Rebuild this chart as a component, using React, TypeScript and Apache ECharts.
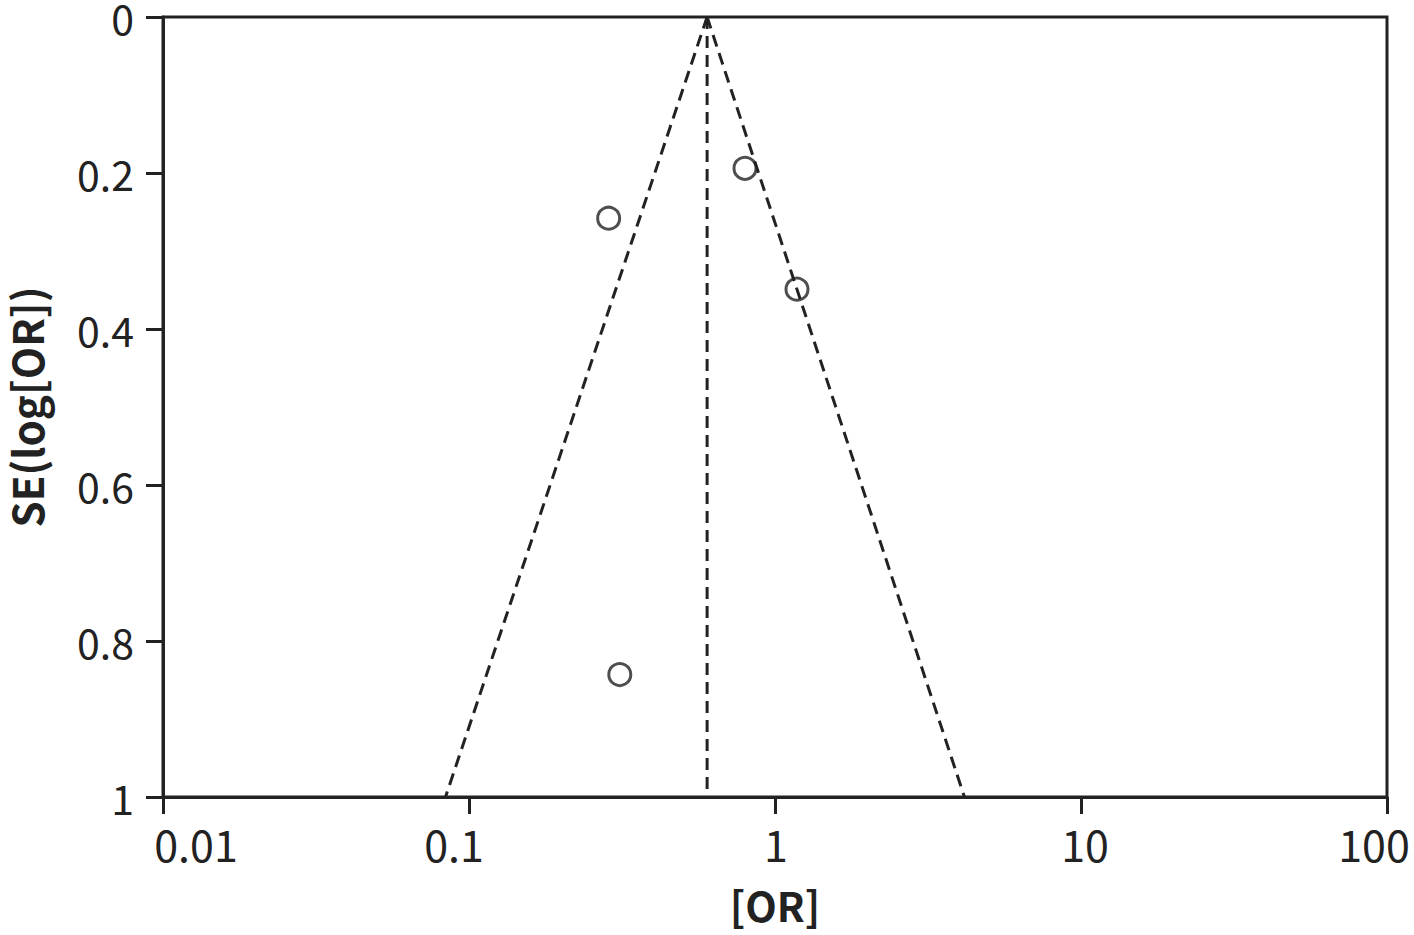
import React, { useEffect, useRef } from "react";
import * as echarts from "echarts";

const studyOR = [0.286, 0.798, 1.18, 0.311];
const studySE = [0.258, 0.194, 0.349, 0.843];
const pooledOR = 0.6;
const funnelLeftOR = 0.0838;
const funnelRightOR = 4.16;
const seRange = [0, 1];
const xTickLabels = ["0.01", "0.1", "1", "10", "100"];
// horizontal nudge of each x tick label relative to its tick (px), as in the reference
const xLabelShift = [33, -15, 1, 4, -13];

const INK = "#222222";
const FONT = "'Noto Sans CJK KR', 'Noto Sans', sans-serif";

export default function App() {
  const ref = useRef<HTMLDivElement>(null);
  useEffect(() => {
    if (!ref.current) return;
    const chart = echarts.init(ref.current, undefined, { renderer: "svg" });
    const dash = [12, 7];
    const rich: Record<string, any> = {};
    xLabelShift.forEach((d, i) => {
      rich["l" + i] = {
        fontFamily: FONT,
        fontSize: 43,
        color: INK,
        padding: d >= 0 ? [0, 0, 0, 2 * d] : [0, -2 * d, 0, 0],
      };
    });
    chart.setOption({
      animation: false,
      backgroundColor: "#ffffff",
      grid: {
        left: 163,
        right: 27,
        top: 17,
        bottom: 138,
        containLabel: false,
        outerBoundsMode: "none",
        show: true,
        borderColor: INK,
        borderWidth: 3,
        backgroundColor: "transparent",
      },
      xAxis: {
        type: "log",
        logBase: 10,
        min: 0.01,
        max: 100,
        position: "bottom",
        name: "[OR]",
        nameLocation: "middle",
        nameGap: 87,
        nameTextStyle: { fontFamily: FONT, fontSize: 41, fontWeight: "bold", color: INK, lineHeight: 40 },
        axisLine: { show: true, onZero: false, lineStyle: { color: INK, width: 3 } },
        axisTick: { show: true, inside: false, length: 17, lineStyle: { color: INK, width: 3 } },
        minorTick: { show: false },
        splitLine: { show: false },
        axisLabel: {
          margin: 24,
          fontFamily: FONT,
          fontSize: 43,
          color: INK,
          rich,
          formatter: (v: number) => {
            const i = Math.round(Math.log10(v)) + 2;
            return xTickLabels[i] !== undefined ? `{l${i}|${xTickLabels[i]}}` : String(v);
          },
        },
      },
      yAxis: {
        type: "value",
        inverse: true,
        min: seRange[0],
        max: seRange[1],
        interval: 0.2,
        position: "left",
        name: "SE(log[OR])",
        nameLocation: "middle",
        nameGap: 118,
        nameTextStyle: { fontFamily: FONT, fontSize: 42, fontWeight: "bold", color: INK, lineHeight: 40 },
        axisLine: { show: true, onZero: false, lineStyle: { color: INK, width: 3 } },
        axisTick: { show: true, inside: false, length: 17, lineStyle: { color: INK, width: 3 } },
        splitLine: { show: false },
        axisLabel: {
          margin: 29,
          fontFamily: FONT,
          fontSize: 41,
          lineHeight: 34,
          color: INK,
          formatter: (v: number) => String(Math.round(v * 10) / 10),
        },
      },
      series: [
        {
          type: "line",
          data: [[pooledOR, seRange[0]], [pooledOR, seRange[1]]],
          symbol: "none",
          lineStyle: { color: INK, width: 3, type: dash },
          z: 2,
        },
        {
          type: "line",
          data: [[pooledOR, seRange[0]], [funnelLeftOR, seRange[1]]],
          symbol: "none",
          lineStyle: { color: INK, width: 3, type: dash },
          z: 2,
        },
        {
          type: "line",
          data: [[pooledOR, seRange[0]], [funnelRightOR, seRange[1]]],
          symbol: "none",
          lineStyle: { color: INK, width: 3, type: dash },
          z: 2,
        },
        {
          type: "scatter",
          data: studyOR.map((o, i) => [o, studySE[i]]),
          symbol: "circle",
          symbolSize: 22,
          itemStyle: { color: "rgba(0,0,0,0)", borderColor: INK, borderWidth: 3 },
          z: 3,
        },
      ],
    });
    return () => chart.dispose();
  }, []);
  return (
    <div
      ref={ref}
      style={{ position: "fixed", left: 0, top: 0, width: 1414, height: 935, background: "#fff" }}
    />
  );
}
